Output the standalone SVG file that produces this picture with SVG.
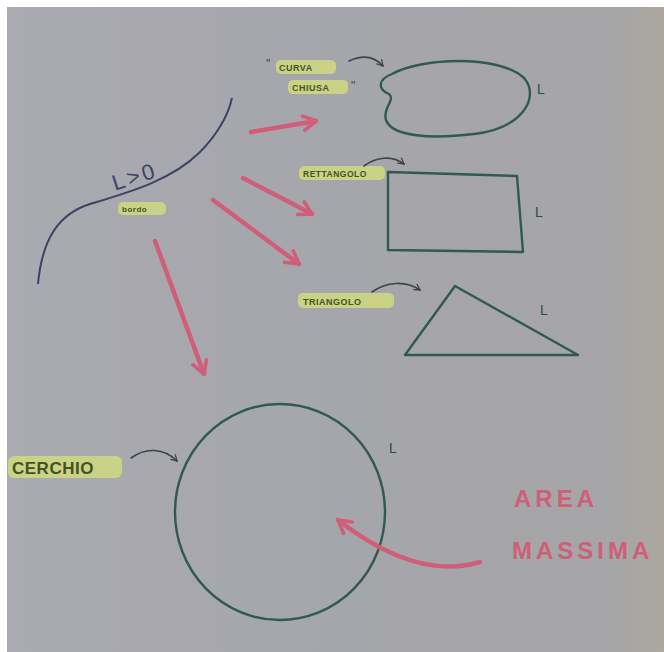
<svg xmlns="http://www.w3.org/2000/svg" width="664" height="652" viewBox="0 0 664 652">
<defs>
<linearGradient id="bg" x1="0" y1="0" x2="1" y2="0">
<stop offset="0" stop-color="#aaaab1"/>
<stop offset="0.5" stop-color="#a5a6ab"/>
<stop offset="0.93" stop-color="#a6a5a7"/>
<stop offset="1" stop-color="#aca89f"/>
</linearGradient>
<marker id="pk" viewBox="0 0 10 10" refX="8" refY="5" markerWidth="4" markerHeight="4" orient="auto-start-reverse">
<path d="M1,1 L8,5 L1,9" fill="none" stroke="#cf5f78" stroke-width="2" stroke-linecap="round" stroke-linejoin="round"/>
</marker>
<marker id="dk" viewBox="0 0 10 10" refX="8" refY="5" markerWidth="5" markerHeight="5" orient="auto">
<path d="M1,1 L8,5 L1,9" fill="none" stroke="#3a4548" stroke-width="1.6" stroke-linecap="round"/>
</marker>
</defs>
<style>
.ink{fill:none;stroke:#2f5a52;stroke-width:2.4;stroke-linejoin:round;stroke-linecap:round}
.pink{fill:none;stroke:#cf5f78;stroke-width:4.5;stroke-linecap:round}
.small{fill:none;stroke:#3a4548;stroke-width:1.6;stroke-linecap:round}
.hl{fill:#d6e07a;opacity:0.75}
.lbl{font-family:"Liberation Sans",Arial,sans-serif;font-weight:bold;fill:#46521f;letter-spacing:0.5px}
.L{font-family:"Liberation Sans",Arial,sans-serif;font-size:14px;fill:#2f4a48}
.red{font-family:"Liberation Sans",Arial,sans-serif;font-weight:bold;fill:#cf5f78;font-size:24px;letter-spacing:4px}
</style>
<rect width="664" height="652" fill="#ffffff"/>
<rect x="7" y="7" width="657" height="645" fill="url(#bg)"/>

<g id="boundary">
<path d="M38,284 C42,240 58,214 90,204 C130,192 172,180 200,152 C215,137 228,117 232,98" fill="none" stroke="#3d4266" stroke-width="2"/>
<text x="110" y="183" transform="rotate(-18 137 171)" font-family="Liberation Sans,Arial,sans-serif" font-size="22" letter-spacing="3" fill="#3d4266">L&gt;0</text>
<rect class="hl" x="118" y="202" width="48" height="13" rx="5"/>
<text class="lbl" x="122" y="212" font-size="8">bordo</text>
</g>

<g id="curva">
<path class="ink" d="M392,74 C420,58 498,54 524,78 C540,96 524,128 474,134 C432,139 392,137 386,120 C382,108 396,100 389,94 C379,90 376,80 392,74 Z"/>
<text x="266" y="68" font-family="Liberation Sans,Arial,sans-serif" font-size="12" fill="#3a4548">"</text>
<rect class="hl" x="276" y="60" width="60" height="14" rx="5"/>
<text class="lbl" x="279" y="71" font-size="9">CURVA</text>
<rect class="hl" x="288" y="80" width="60" height="14" rx="5"/>
<text class="lbl" x="292" y="91" font-size="9">CHIUSA</text>
<text x="351" y="90" font-family="Liberation Sans,Arial,sans-serif" font-size="12" fill="#3a4548">"</text>
<path class="small" d="M349,61 C362,55 374,56 383,66" marker-end="url(#dk)"/>
<text class="L" x="537" y="94">L</text>
</g>

<g id="rettangolo">
<path class="ink" d="M388,172 L517,176 L523,252 L388,250 Z"/>
<rect class="hl" x="299" y="166" width="86" height="14" rx="5"/>
<text class="lbl" x="303" y="177" font-size="8.5">RETTANGOLO</text>
<path class="small" d="M364,166 C376,157 392,155 404,164" marker-end="url(#dk)"/>
<text class="L" x="535" y="217">L</text>
</g>

<g id="triangolo">
<path class="ink" d="M405,355 L455,286 L578,355 Z"/>
<rect class="hl" x="298" y="293" width="96" height="15" rx="5"/>
<text class="lbl" x="303" y="305" font-size="9">TRIANGOLO</text>
<path class="small" d="M372,292 C386,282 405,280 420,290" marker-end="url(#dk)"/>
<text class="L" x="540" y="315">L</text>
</g>

<g id="cerchio">
<ellipse class="ink" cx="280" cy="512" rx="105" ry="108"/>
<rect class="hl" x="8" y="456" width="114" height="22" rx="6"/>
<text class="lbl" x="12" y="474" font-size="17">CERCHIO</text>
<path class="small" d="M131,458 C146,447 164,448 177,461" marker-end="url(#dk)"/>
<text class="L" x="389" y="453">L</text>
</g>

<g id="area">
<text class="red" x="514" y="507">AREA</text>
<text class="red" x="512" y="559">MASSIMA</text>
</g>

<g id="connectors">
<path class="pink" d="M251,132 L316,121" marker-end="url(#pk)"/>
<path class="pink" d="M243,178 L312,214" marker-end="url(#pk)"/>
<path class="pink" d="M213,200 L299,264" marker-end="url(#pk)"/>
<path class="pink" d="M155,241 L204,374" marker-end="url(#pk)"/>
<path class="pink" d="M480,562 C440,574 392,562 338,520" marker-end="url(#pk)"/>
</g>
</svg>
